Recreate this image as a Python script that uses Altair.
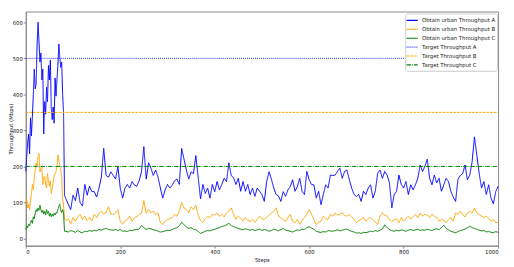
import altair as alt
import pandas as pd

# ---- data ----
early_steps = list(range(0, 83, 2))
late_steps = list(range(85, 1001, 5))

a_early = [186, 230, 265, 290, 235, 335, 285, 340, 400, 470,
           415, 430, 540, 600, 545, 490, 515, 440, 470, 290,
           380, 345, 420, 380, 480, 440, 495, 360, 330, 365,
           320, 445, 395, 440, 480, 540, 505, 475, 490, 400,
           350, 120]
b_early = [100, 110, 85, 95, 80, 105, 125, 150, 135, 170,
           190, 210, 200, 228, 236, 185, 195, 200, 150, 170,
           172, 150, 140, 180, 160, 145, 160, 125, 140, 155,
           175, 180, 185, 200, 232, 215, 205, 190, 170, 110,
           90, 55]
c_early = [25, 35, 30, 40, 35, 45, 50, 42, 60, 55,
           70, 80, 75, 85, 78, 92, 80, 72, 78, 68,
           75, 65, 80, 70, 75, 62, 70, 60, 68, 62,
           70, 65, 72, 70, 80, 90, 95, 78, 72, 80,
           70, 20]

a_late = [110, 95, 80, 120, 105, 140, 100, 90, 150, 120,
          145, 130, 130, 115, 140, 170, 250, 175, 170, 185,
          175, 165, 200, 140, 112, 140, 150, 140, 158, 148,
          145, 160, 185, 255, 165, 210, 195, 175, 190, 170,
          140, 112, 135, 150, 140, 148, 160, 165, 150, 250,
          220, 190, 165, 185, 180, 230, 170, 110, 150, 125,
          140, 112, 150, 130, 158, 135, 150, 167, 158, 210,
          175, 168, 150, 167, 131, 158, 131, 150, 122, 140,
          117, 140, 131, 122, 103, 158, 185, 165, 140, 122,
          118, 103, 130, 117, 135, 144, 163, 131, 144, 167,
          131, 122, 186, 163, 150, 149, 112, 131, 94, 122,
          149, 140, 176, 175, 176, 186, 195, 167, 186, 190,
          163, 140, 122, 117, 122, 103, 131, 122, 140, 149,
          112, 131, 181, 190, 167, 186, 176, 154, 85, 122,
          131, 176, 150, 140, 158, 122, 149, 135, 149, 167,
          204, 186, 200, 220, 167, 149, 176, 154, 167, 131,
          149, 167, 158, 131, 115, 103, 165, 175, 180, 204,
          163, 176, 213, 282, 231, 180, 140, 158, 122, 149,
          112, 96, 130, 145]
b_late = [50, 55, 40, 58, 48, 60, 67, 53, 62, 50,
          58, 48, 67, 58, 70, 76, 68, 72, 88, 68,
          67, 71, 80, 48, 40, 48, 53, 62, 48, 58,
          60, 67, 70, 105, 70, 80, 71, 76, 67, 71,
          45, 39, 48, 53, 55, 58, 67, 62, 76, 100,
          85, 80, 72, 88, 80, 92, 65, 50, 44, 55,
          62, 58, 67, 65, 71, 62, 67, 60, 71, 76,
          85, 67, 53, 62, 55, 48, 58, 50, 48, 53,
          45, 53, 62, 55, 53, 58, 65, 71, 76, 85,
          62, 58, 52, 48, 58, 67, 48, 44, 53, 39,
          50, 58, 67, 80, 67, 53, 39, 45, 48, 62,
          55, 53, 67, 62, 71, 65, 67, 71, 64, 62,
          67, 60, 53, 44, 50, 53, 58, 48, 55, 58,
          53, 45, 39, 62, 71, 65, 62, 53, 48, 52,
          55, 44, 58, 48, 55, 62, 53, 60, 67, 58,
          71, 62, 67, 65, 58, 67, 62, 58, 48, 53,
          50, 44, 53, 58, 48, 71, 67, 76, 67, 60,
          71, 75, 70, 85, 71, 67, 62, 58, 62, 55,
          48, 53, 44, 45]
c_late = [20, 18, 22, 20, 17, 22, 18, 16, 20, 19,
          22, 20, 23, 21, 25, 23, 26, 28, 25, 24,
          23, 25, 22, 25, 20, 21, 19, 23, 22, 24,
          25, 26, 36, 30, 25, 28, 27, 24, 23, 20,
          18, 19, 21, 23, 22, 25, 28, 30, 35, 45,
          38, 32, 28, 30, 26, 24, 20, 14, 17, 20,
          22, 21, 24, 25, 28, 30, 33, 35, 38, 42,
          36, 33, 30, 28, 26, 24, 27, 25, 23, 25,
          22, 24, 26, 22, 25, 23, 20, 22, 26, 24,
          21, 25, 28, 23, 22, 20, 18, 21, 24, 22,
          26, 25, 30, 33, 29, 26, 20, 18, 17, 19,
          18, 22, 21, 20, 22, 24, 21, 23, 25, 26,
          22, 20, 18, 15, 16, 14, 17, 16, 18, 20,
          19, 22, 20, 23, 26, 38, 30, 25, 22, 20,
          23, 21, 24, 22, 20, 23, 25, 22, 24, 26,
          22, 24, 23, 26, 24, 22, 25, 27, 24, 30,
          37, 28, 24, 20, 18, 16, 19, 22, 24, 26,
          30, 34, 30, 28, 26, 23, 21, 22, 18, 20,
          17, 16, 19, 17]

target_steps = [0, 1000]
target_a = [500, 500]
target_b = [350, 350]
target_c = [200, 200]

names = ["Obtain urban Throughput A", "Obtain urban Throughput B",
         "Obtain urban Throughput C", "Target Throughput A",
         "Target Throughput B", "Target Throughput C"]
colors = ["#0000ff", "#ffa500", "#008000", "#0000ff", "#ffa500", "#008000"]
dashes = [[1, 0], [1, 0], [1, 0], [0.8, 1.2], [2.6, 1.1], [4.5, 1.1, 0.8, 1.1]]
opacities = [1, 1, 1, 0.55, 0.75, 0.7]

steps = early_steps + late_steps
series_vals = [a_early + a_late, b_early + b_late, c_early + c_late]

rows = []
for name, vals in zip(names[:3], series_vals):
    for s, v in zip(steps, vals):
        rows.append({"Steps": s, "Throughput": v, "series": name})
for name, vals in zip(names[3:], [target_a, target_b, target_c]):
    for s, v in zip(target_steps, vals):
        rows.append({"Steps": s, "Throughput": v, "series": name})
df = pd.DataFrame(rows)
df["order"] = df["series"].map({n: i for i, n in enumerate(names)})

font = "DejaVu Sans"
fs = 5.4

legend = alt.Legend(
    title=None, orient="top-right", offset=1.5,
    fillColor="white", strokeColor="#cccccc", padding=2, cornerRadius=2,
    labelFontSize=fs, labelFont=font, labelColor="#222222", labelLimit=300,
    symbolType="M-1.4,0H1.4", symbolSize=64, symbolStrokeWidth=1.1,
    rowPadding=0, labelOffset=5,
)

chart = alt.Chart(df).mark_line(strokeWidth=1.0).encode(
    x=alt.X("Steps:Q", scale=alt.Scale(domain=[0, 1000], nice=False, zero=False),
            axis=alt.Axis(values=[0, 200, 400, 600, 800, 1000], format="d", title="Steps")),
    y=alt.Y("Throughput:Q", scale=alt.Scale(domain=[-20, 630], nice=False),
            axis=alt.Axis(values=[0, 100, 200, 300, 400, 500, 600], format="d",
                          title="Throughput (Mbps)", titleX=-12.5, labelPadding=1)),
    color=alt.Color("series:N", scale=alt.Scale(domain=names, range=colors), legend=legend),
    strokeDash=alt.StrokeDash("series:N", scale=alt.Scale(domain=names, range=dashes), legend=legend),
    opacity=alt.Opacity("series:N", scale=alt.Scale(domain=names, range=opacities), legend=legend),
    order=alt.Order("order:Q"),
).properties(
    width=478, height=237,
    background="white",
    autosize=alt.AutoSizeParams(type="none"),
    padding={"left": 18, "top": 2, "right": 8, "bottom": 19},
).configure_view(
    stroke="#888888", strokeWidth=1
).configure_axis(
    grid=False, domainColor="#888888", tickColor="#888888", tickSize=2.5,
    labelFont=font, labelFontSize=fs, labelColor="#222222", labelPadding=1.5,
    titleFont=font, titleFontSize=fs, titleFontWeight="normal", titleColor="#222222",
    titlePadding=3,
)

chart.save("out.html", embed_options={"renderer": "svg", "actions": False})
